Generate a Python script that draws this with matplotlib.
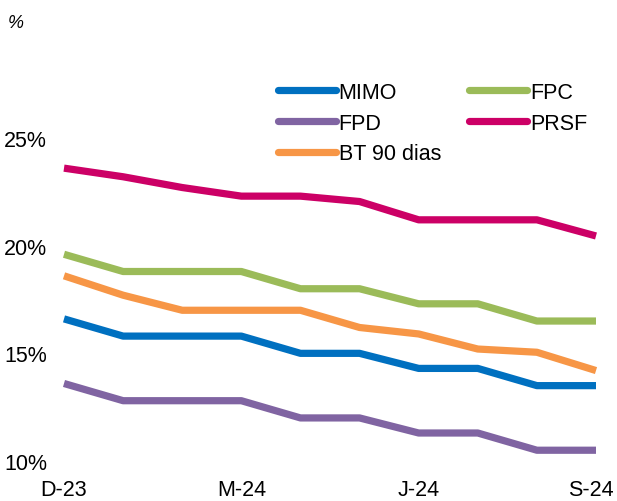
import matplotlib
matplotlib.use("Agg")
import matplotlib.pyplot as plt
import matplotlib.transforms as mtransforms
from matplotlib.lines import Line2D

plt.rcParams['font.family'] = ['Liberation Sans', 'DejaVu Sans']

months = ["D-23", "E-24", "F-24", "M-24", "A-24", "M-24b", "J-24", "J-24b", "A-24b", "S-24"]
tick_idx = [0, 3, 6, 9]
tick_labels = ["D-23", "M-24", "J-24", "S-24"]

mimo = [16.6, 15.8, 15.8, 15.8, 15.0, 15.0, 14.3, 14.3, 13.5, 13.5]
fpc = [19.6, 18.8, 18.8, 18.8, 18.0, 18.0, 17.3, 17.3, 16.5, 16.5]
fpd = [13.6, 12.8, 12.8, 12.8, 12.0, 12.0, 11.3, 11.3, 10.5, 10.5]
prsf = [23.6, 23.2, 22.7, 22.3, 22.3, 22.05, 21.2, 21.2, 21.2, 20.45]
bt90 = [18.6, 17.7, 17.0, 17.0, 17.0, 16.2, 15.9, 15.2, 15.05, 14.2]

series = [
    ("MIMO", mimo, "#0070C0"),
    ("FPD", fpd, "#8064A2"),
    ("BT 90 dias", bt90, "#F79646"),
    ("FPC", fpc, "#9BBB59"),
    ("PRSF", prsf, "#CC0066"),
]

W, H = 617, 502
fig = plt.figure(figsize=(W / 100, H / 100), dpi=100)
left, right, bottom, top = 64, 596, 462, 139
ax = fig.add_axes([left / W, (H - bottom) / H, (right - left) / W, (bottom - top) / H])

x = list(range(len(months)))
handles = []
for name, vals, col in series:
    ax.plot(x, vals, color=col, lw=5.2, solid_capstyle='butt', solid_joinstyle='round', clip_on=False)
    handles.append(Line2D([0], [0], color=col, lw=5.2, solid_capstyle='round', label=name))

ax.set_xlim(0, 9)
ax.set_ylim(10, 25)
ax.set_yticks([10, 15, 20, 25])
ax.set_yticklabels(["10%", "15%", "20%", "25%"])
ax.set_xticks(tick_idx)
ax.set_xticklabels(tick_labels)
for s in ax.spines.values():
    s.set_visible(False)
ax.tick_params(axis='both', length=0, labelsize=15.5, colors='black')
ax.tick_params(axis='y', pad=43)
ax.tick_params(axis='x', pad=13)
for lab in ax.get_yticklabels():
    lab.set_ha('left')
last = ax.get_xticklabels()[-1]
last.set_transform(last.get_transform() + mtransforms.ScaledTranslation(-5 / 100, 0, fig.dpi_scale_trans))

fig.text(8 / W, 1 - 23 / H, "%", fontsize=13, style='italic', va='center', ha='left')

leg = fig.legend(handles=handles, ncol=2, loc='upper left',
                 bbox_to_anchor=(278 / W, 1 - 83 / H), frameon=False,
                 fontsize=15.5, handlelength=2.7, handletextpad=0.12,
                 columnspacing=1.3, labelspacing=0.45, borderpad=0, borderaxespad=0)

fig.savefig("out.png", dpi=100)
